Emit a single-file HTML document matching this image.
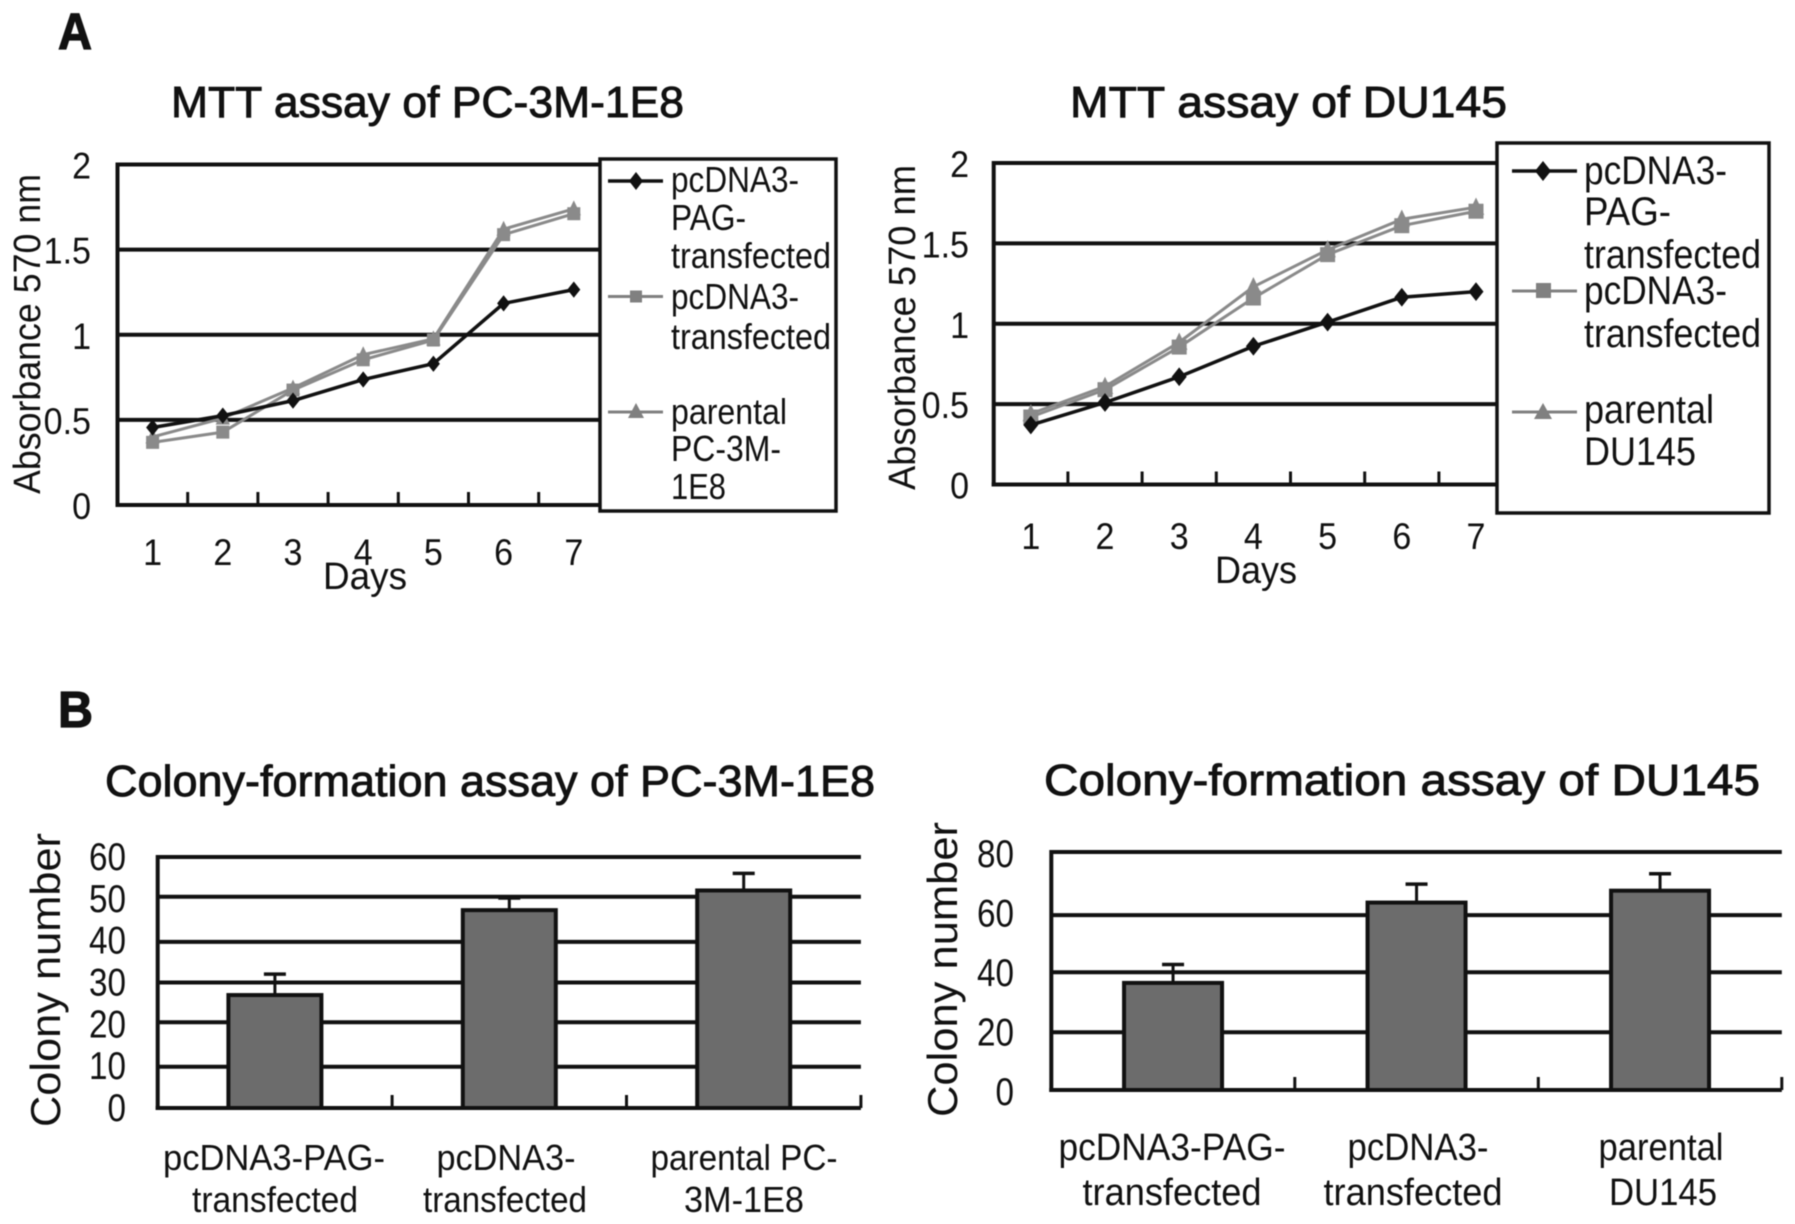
<!DOCTYPE html>
<html lang="en">
<head>
<meta charset="utf-8">
<title>MTT and colony-formation assays</title>
<style>
html,body{margin:0;padding:0;background:#fff;width:1795px;height:1224px;overflow:hidden}
svg{display:block;filter:blur(0.45px)}
text{font-family:"Liberation Sans",sans-serif;fill:#111}
</style>
</head>
<body>
<svg id="figure" width="1795" height="1224" viewBox="0 0 1795 1224" xmlns="http://www.w3.org/2000/svg">
<rect width="1795" height="1224" fill="#fff"/>
<g id="layer-charts"></g>

<text x="58" y="49" font-size="51" font-weight="bold" textLength="34" lengthAdjust="spacingAndGlyphs" stroke="#111" stroke-width="1.2">A</text>
<text x="58" y="727" font-size="51" font-weight="bold" textLength="35" lengthAdjust="spacingAndGlyphs" stroke="#111" stroke-width="1.2">B</text>

<text x="171" y="117" font-size="44" textLength="513" lengthAdjust="spacingAndGlyphs" stroke="#111" stroke-width="0.9">MTT assay of PC-3M-1E8</text>
<text x="1070" y="117" font-size="44" textLength="437" lengthAdjust="spacingAndGlyphs" stroke="#111" stroke-width="0.9">MTT assay of DU145</text>
<text x="105" y="796" font-size="44" textLength="770" lengthAdjust="spacingAndGlyphs" stroke="#111" stroke-width="0.9">Colony-formation assay of PC-3M-1E8</text>
<text x="1044" y="795" font-size="44" textLength="716" lengthAdjust="spacingAndGlyphs" stroke="#111" stroke-width="0.9">Colony-formation assay of DU145</text>

<text transform="translate(40,494) rotate(-90)" font-size="38" textLength="320" lengthAdjust="spacingAndGlyphs">Absorbance 570 nm</text>
<text transform="translate(915,490) rotate(-90)" font-size="38" textLength="325" lengthAdjust="spacingAndGlyphs">Absorbance 570 nm</text>
<text transform="translate(60,1127) rotate(-90)" font-size="42" textLength="294" lengthAdjust="spacingAndGlyphs">Colony number</text>
<text transform="translate(957,1117) rotate(-90)" font-size="42" textLength="295" lengthAdjust="spacingAndGlyphs">Colony number</text>

<text x="323" y="589" font-size="38" textLength="84" lengthAdjust="spacingAndGlyphs">Days</text>
<text x="1215" y="583" font-size="38" textLength="82" lengthAdjust="spacingAndGlyphs">Days</text>

<g>
<rect x="600" y="159" width="236" height="352" fill="#fff" stroke="#111" stroke-width="3.5"/>
<g>
<line x1="608" x2="663" y1="181" y2="181" stroke="#111" stroke-width="3.5"/>
<polygon points="636,172 643,181 636,190 629,181" fill="#111"/>
<text x="671" y="192" font-size="36" textLength="128" lengthAdjust="spacingAndGlyphs">pcDNA3-</text>
<text x="671" y="230" font-size="36" textLength="75" lengthAdjust="spacingAndGlyphs">PAG-</text>
<text x="671" y="268" font-size="36" textLength="160" lengthAdjust="spacingAndGlyphs">transfected</text>
</g>
<g>
<line x1="608" x2="663" y1="296.5" y2="296.5" stroke="#808080" stroke-width="3"/>
<rect x="630" y="290.5" width="12" height="12" fill="#808080"/>
<text x="671" y="309" font-size="36" textLength="128" lengthAdjust="spacingAndGlyphs">pcDNA3-</text>
<text x="671" y="349" font-size="36" textLength="160" lengthAdjust="spacingAndGlyphs">transfected</text>
</g>
<g>
<line x1="608" x2="663" y1="412" y2="412" stroke="#808080" stroke-width="3"/>
<polygon points="636,403 644,418 628,418" fill="#808080"/>
<text x="671" y="424" font-size="36" textLength="116" lengthAdjust="spacingAndGlyphs">parental</text>
<text x="671" y="461" font-size="36" textLength="110" lengthAdjust="spacingAndGlyphs">PC-3M-</text>
<text x="671" y="499" font-size="36" textLength="55" lengthAdjust="spacingAndGlyphs">1E8</text>
</g>
</g>

<g>
<rect x="1497" y="143" width="272" height="370" fill="#fff" stroke="#111" stroke-width="3.5"/>
<g>
<line x1="1512" x2="1577" y1="171" y2="171" stroke="#111" stroke-width="3.5"/>
<polygon points="1543,161 1551,171 1543,181 1535,171" fill="#111"/>
<text x="1584" y="184" font-size="40" textLength="143" lengthAdjust="spacingAndGlyphs">pcDNA3-</text>
<text x="1584" y="225" font-size="40" textLength="87" lengthAdjust="spacingAndGlyphs">PAG-</text>
<text x="1584" y="268" font-size="40" textLength="177" lengthAdjust="spacingAndGlyphs">transfected</text>
</g>
<g>
<line x1="1512" x2="1577" y1="291" y2="291" stroke="#808080" stroke-width="3"/>
<rect x="1536" y="283" width="15" height="15" fill="#808080"/>
<text x="1584" y="304" font-size="40" textLength="143" lengthAdjust="spacingAndGlyphs">pcDNA3-</text>
<text x="1584" y="347" font-size="40" textLength="177" lengthAdjust="spacingAndGlyphs">transfected</text>
</g>
<g>
<line x1="1512" x2="1577" y1="412" y2="412" stroke="#808080" stroke-width="3"/>
<polygon points="1543,403 1552,419 1534,419" fill="#808080"/>
<text x="1584" y="423" font-size="40" textLength="130" lengthAdjust="spacingAndGlyphs">parental</text>
<text x="1584" y="465" font-size="40" textLength="112" lengthAdjust="spacingAndGlyphs">DU145</text>
</g>
</g>

<g>
<text x="274" y="1170" font-size="36" text-anchor="middle" textLength="222" lengthAdjust="spacingAndGlyphs">pcDNA3-PAG-</text>
<text x="275" y="1212" font-size="36" text-anchor="middle" textLength="166" lengthAdjust="spacingAndGlyphs">transfected</text>
<text x="506" y="1170" font-size="36" text-anchor="middle" textLength="139" lengthAdjust="spacingAndGlyphs">pcDNA3-</text>
<text x="505" y="1212" font-size="36" text-anchor="middle" textLength="164" lengthAdjust="spacingAndGlyphs">transfected</text>
<text x="744" y="1170" font-size="36" text-anchor="middle" textLength="187" lengthAdjust="spacingAndGlyphs">parental PC-</text>
<text x="744" y="1212" font-size="36" text-anchor="middle" textLength="120" lengthAdjust="spacingAndGlyphs">3M-1E8</text>
</g>
<g>
<text x="1172" y="1160" font-size="38" text-anchor="middle" textLength="227" lengthAdjust="spacingAndGlyphs">pcDNA3-PAG-</text>
<text x="1172" y="1205" font-size="38" text-anchor="middle" textLength="179" lengthAdjust="spacingAndGlyphs">transfected</text>
<text x="1418" y="1160" font-size="38" text-anchor="middle" textLength="141" lengthAdjust="spacingAndGlyphs">pcDNA3-</text>
<text x="1413" y="1205" font-size="38" text-anchor="middle" textLength="179" lengthAdjust="spacingAndGlyphs">transfected</text>
<text x="1661" y="1160" font-size="38" text-anchor="middle" textLength="125" lengthAdjust="spacingAndGlyphs">parental</text>
<text x="1663" y="1205" font-size="38" text-anchor="middle" textLength="108" lengthAdjust="spacingAndGlyphs">DU145</text>
</g>
</svg>

<script>
// ---- MTT assay of PC-3M-1E8 ----
var pc3mDays = ['1', '2', '3', '4', '5', '6', '7'];
var pc3mTickValues = [0, 0.5, 1, 1.5, 2];
var pc3mTickLabels = ['0', '0.5', '1', '1.5', '2'];
var pc3mPag = [0.455, 0.525, 0.613, 0.737, 0.83, 1.184, 1.265];
var pc3mVector = [0.368, 0.428, 0.675, 0.853, 0.969, 1.588, 1.711];
var pc3mParental = [0.40, 0.51, 0.687, 0.883, 0.976, 1.62, 1.74];

// ---- MTT assay of DU145 ----
var du145Days = ['1', '2', '3', '4', '5', '6', '7'];
var du145TickValues = [0, 0.5, 1, 1.5, 2];
var du145TickLabels = ['0', '0.5', '1', '1.5', '2'];
var du145Pag = [0.37, 0.51, 0.67, 0.86, 1.01, 1.165, 1.20];
var du145Vector = [0.42, 0.59, 0.855, 1.16, 1.43, 1.61, 1.70];
var du145Parental = [0.44, 0.61, 0.885, 1.23, 1.46, 1.65, 1.725];

// ---- Colony-formation assay of PC-3M-1E8 ----
var colonyPc3mTickValues = [0, 10, 20, 30, 40, 50, 60];
var colonyPc3mTickLabels = ['0', '10', '20', '30', '40', '50', '60'];
var colonyPc3mGridValues = [9.85, 20.5, 30, 39.7, 50.5, 60];
var colonyPc3mMeans = [27, 47.3, 52];
var colonyPc3mErrorTops = [32, 50.2, 56.1];

// ---- Colony-formation assay of DU145 ----
var colonyDu145TickValues = [0, 20, 40, 60, 80];
var colonyDu145TickLabels = ['0', '20', '40', '60', '80'];
var colonyDu145GridValues = [19.4, 39.6, 58.8, 80];
var colonyDu145Means = [36, 63, 67];
var colonyDu145ErrorTops = [42.2, 69.2, 72.7];

var SVGNS = 'http://www.w3.org/2000/svg';
var chartLayer = document.getElementById('layer-charts');

function make(tag, attrs, parent) {
  var node = document.createElementNS(SVGNS, tag);
  for (var k in attrs) { node.setAttribute(k, attrs[k]); }
  parent.appendChild(node);
  return node;
}

function linear(d0, d1, r0, r1) {
  return function (v) { return r0 + (v - d0) / (d1 - d0) * (r1 - r0); };
}

function condense(label, ratio) {
  label.setAttribute('textLength', String(label.getComputedTextLength() * ratio));
  label.setAttribute('lengthAdjust', 'spacingAndGlyphs');
}

function drawMarker(parent, kind, cx, cy, size, color) {
  var m;
  if (kind === 'diamond') {
    m = make('polygon', { points: (cx) + ',' + (cy - size * 1.25) + ' ' + (cx + size) + ',' + cy + ' ' + cx + ',' + (cy + size * 1.25) + ' ' + (cx - size) + ',' + cy, fill: color }, parent);
  } else if (kind === 'square') {
    m = make('rect', { x: cx - size, y: cy - size, width: size * 2, height: size * 2, fill: color }, parent);
  } else {
    m = make('polygon', { points: cx + ',' + (cy - size * 1.3) + ' ' + (cx + size * 1.1) + ',' + (cy + size) + ' ' + (cx - size * 1.1) + ',' + (cy + size), fill: color }, parent);
  }
  
  
}

function drawAxesFrame(g, left, right, top, bottom) {
  var yAxis = make('line', { x1: left, x2: left, y1: top - 2, y2: bottom + 2, stroke: '#111', 'stroke-width': 4 }, g);
  
  
  var xAxis = make('line', { x1: left - 2, x2: right, y1: bottom, y2: bottom, stroke: '#111', 'stroke-width': 4 }, g);
  
  
}

function drawLineChart(name, box, days, tickValues, tickLabels, pag, vector, parental) {
  var g = make('g', {}, chartLayer);
  
  
  var yMax = tickValues[tickValues.length - 1];
  var yScale = linear(0, yMax, box.bottom, box.top);
  var xScale = function (i) { return box.left + box.step * (i + 0.5); };
  var right = box.left + box.step * days.length;

  tickValues.forEach(function (v, i) {
    if (v > 0) {
      var grid = make('line', { x1: box.left, x2: right, y1: yScale(v), y2: yScale(v), stroke: '#111', 'stroke-width': 4 }, g);
      
      
    }
    var label = make('text', { x: box.yLabelRight, y: yScale(v) + 14, 'font-size': 37, 'text-anchor': 'end' }, g);
    label.textContent = tickLabels[i];
    condense(label, 0.92);
    
    
  });

  days.forEach(function (d, i) {
    if (i > 0) {
      var tickX = box.left + box.step * i;
      var tick = make('line', { x1: tickX, x2: tickX, y1: box.bottom - 13, y2: box.bottom, stroke: '#111', 'stroke-width': 3 }, g);
      
      
    }
    var label = make('text', { x: xScale(i), y: box.xLabelY, 'font-size': 37, 'text-anchor': 'middle' }, g);
    label.textContent = d;
    condense(label, 0.92);
    
    
  });

  drawAxesFrame(g, box.left, right, box.top, box.bottom);

  var seriesList = [
    { key: 'parental', values: parental, color: '#8a8a8a', width: 3, marker: 'triangle' },
    { key: 'vector', values: vector, color: '#8a8a8a', width: 3, marker: 'square' },
    { key: 'pag', values: pag, color: '#111', width: 3.5, marker: 'diamond' }
  ];
  seriesList.forEach(function (s) {
    var pts = s.values.map(function (v, i) { return xScale(i) + ',' + yScale(v); }).join(' ');
    var line = make('polyline', { points: pts, fill: 'none', stroke: s.color, 'stroke-width': s.width }, g);
    
    
    s.values.forEach(function (v, i) {
      drawMarker(g, s.marker, xScale(i), yScale(v), box.markerSize, s.color);
    });
  });
}

function drawBarChart(name, box, tickValues, tickLabels, gridValues, means, errorTops) {
  var g = make('g', {}, chartLayer);
  
  
  var yMax = tickValues[tickValues.length - 1];
  var yScale = linear(0, yMax, box.bottom, box.top);
  var right = box.left + box.step * means.length;

  gridValues.forEach(function (v) {
    var grid = make('line', { x1: box.left, x2: right, y1: yScale(v), y2: yScale(v), stroke: '#111', 'stroke-width': 4 }, g);
    
    
  });

  tickLabels.forEach(function (t, i) {
    var label = make('text', { x: box.yLabelRight, y: yScale(tickValues[i]) + box.labelBaseOffset, 'font-size': 39, 'text-anchor': 'end' }, g);
    label.textContent = t;
    label.setAttribute('textLength', String(t.length * 18.5));
    label.setAttribute('lengthAdjust', 'spacingAndGlyphs');
    
    
  });

  means.forEach(function (v, i) {
    var tickX = box.left + box.step * (i + 1);
    var tick = make('line', { x1: tickX, x2: tickX, y1: box.bottom - 13, y2: box.bottom, stroke: '#111', 'stroke-width': 3 }, g);
    
    
  });

  drawAxesFrame(g, box.left, right, box.top, box.bottom);

  means.forEach(function (v, i) {
    var cx = box.left + box.step * (i + 0.5);
    var errLine = make('line', { x1: cx, x2: cx, y1: yScale(errorTops[i]), y2: yScale(v), stroke: '#111', 'stroke-width': 3 }, g);
    
    
    var errCap = make('line', { x1: cx - 11, x2: cx + 11, y1: yScale(errorTops[i]), y2: yScale(errorTops[i]), stroke: '#111', 'stroke-width': 3.5 }, g);
    
    
    var bar = make('rect', { x: cx - box.barWidth / 2, y: yScale(v), width: box.barWidth, height: box.bottom - yScale(v), fill: '#6c6c6c', stroke: '#111', 'stroke-width': 4 }, g);
    
    
  });
}

drawLineChart('chart-mtt-pc3m',
  { left: 117.5, step: 70.2, top: 164.5, bottom: 505, yLabelRight: 91, xLabelY: 565, markerSize: 6.5 },
  pc3mDays, pc3mTickValues, pc3mTickLabels, pc3mPag, pc3mVector, pc3mParental);

drawLineChart('chart-mtt-du145',
  { left: 993.7, step: 74.2, top: 163, bottom: 484.5, yLabelRight: 969, xLabelY: 549, markerSize: 7.5 },
  du145Days, du145TickValues, du145TickLabels, du145Pag, du145Vector, du145Parental);

drawBarChart('chart-colony-pc3m',
  { left: 157.7, step: 234.4, top: 857, bottom: 1108, yLabelRight: 126, labelBaseOffset: 13, barWidth: 93 },
  colonyPc3mTickValues, colonyPc3mTickLabels, colonyPc3mGridValues, colonyPc3mMeans, colonyPc3mErrorTops);

drawBarChart('chart-colony-du145',
  { left: 1051.3, step: 243.5, top: 852, bottom: 1090, yLabelRight: 1014, labelBaseOffset: 15, barWidth: 98 },
  colonyDu145TickValues, colonyDu145TickLabels, colonyDu145GridValues, colonyDu145Means, colonyDu145ErrorTops);
</script>
</body>
</html>
